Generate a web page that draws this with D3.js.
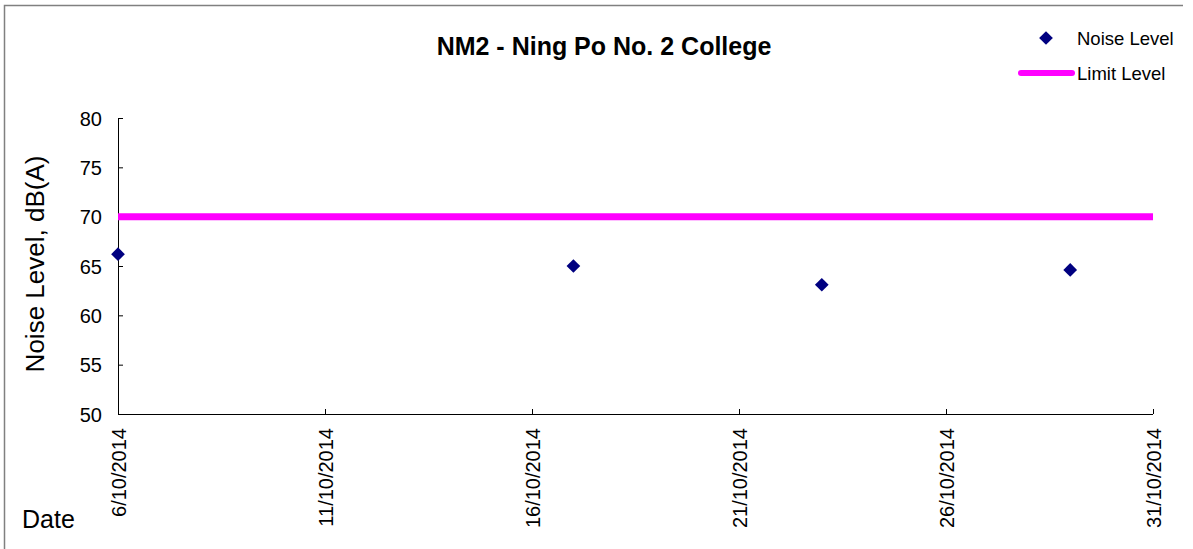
<!DOCTYPE html>
<meta charset="utf-8">
<title>NM2 - Ning Po No. 2 College</title>
<style>
  body { margin: 0; background: #fff; }
  text { font-family: "Liberation Sans", Arial, sans-serif; fill: #000; }
  .axis path, .axis line { stroke: #000; stroke-width: 1px; }
  .axis text { font-size: 20px; }
</style>
<body>
<script src="https://d3js.org/d3.v7.min.js"></script>
<script>

var width = 1193,
    height = 549;

// data
var dates = ["2014-10-06", "2014-10-17", "2014-10-23", "2014-10-29"];
var noise = [66.2, 65.0, 63.1, 64.6];
var limitLevel = 70;
var xTicks = ["2014-10-06", "2014-10-11", "2014-10-16", "2014-10-21", "2014-10-26", "2014-10-31"];
var yTicks = [50, 55, 60, 65, 70, 75, 80];

var parse = d3.utcParse("%Y-%m-%d");
var fmt = function(d) { return d.getUTCDate() + "/" + (d.getUTCMonth() + 1) + "/" + d.getUTCFullYear(); };

var pLeft = 118, pRight = 1153, pTop = 118, pBottom = 414;

var x = d3.scaleUtc()
    .domain([parse(xTicks[0]), parse(xTicks[xTicks.length - 1])])
    .range([pLeft, pRight]);

var y = d3.scaleLinear()
    .domain([50, 80])
    .range([pBottom, pTop]);

var svg = d3.select("body").append("svg")
    .attr("width", width)
    .attr("height", height);

// outer frame (left and top edges)
svg.append("path")
    .attr("d", "M4.5," + height + "V5.5H1183")
    .attr("fill", "none")
    .attr("stroke", "#808080")
    .attr("stroke-width", 1.5);

// y axis
var yAxis = svg.append("g")
    .attr("class", "axis")
    .attr("transform", "translate(" + pLeft + ",0)")
    .call(d3.axisRight(y).tickValues(yTicks).tickSize(5).tickSizeOuter(0));
yAxis.selectAll("text").attr("x", -16).attr("text-anchor", "end").attr("dy", "0.35em");
yAxis.select(".domain").attr("d", "M0.5," + pTop + "V" + pBottom);

// x axis
var xAxis = svg.append("g")
    .attr("class", "axis")
    .attr("transform", "translate(0," + pBottom + ")")
    .call(d3.axisTop(x).tickValues(xTicks.map(parse)).tickFormat(fmt).tickSize(5).tickSizeOuter(0));
xAxis.select(".domain").attr("d", "M" + pLeft + ",0.5H" + pRight);
xAxis.selectAll("text")
    .attr("transform", "rotate(-90)")
    .attr("x", -14)
    .attr("y", 0)
    .attr("dy", "0.35em")
    .attr("text-anchor", "end");

// limit line
svg.append("line")
    .attr("x1", x(parse(xTicks[0])))
    .attr("x2", x(parse(xTicks[xTicks.length - 1])))
    .attr("y1", y(limitLevel))
    .attr("y2", y(limitLevel))
    .attr("stroke", "#ff00ff")
    .attr("stroke-width", 7);

// noise points
var diamond = d3.symbol().type(d3.symbolDiamond2).size(120);
svg.selectAll(".pt")
    .data(dates.map(function(d, i) { return {date: parse(d), v: noise[i]}; }))
    .enter().append("path")
    .attr("class", "pt")
    .attr("d", diamond)
    .attr("fill", "#000080")
    .attr("transform", function(d) { return "translate(" + x(d.date) + "," + y(d.v) + ")"; });

// title
svg.append("text")
    .attr("x", 604)
    .attr("y", 55)
    .attr("text-anchor", "middle")
    .attr("font-size", "25px")
    .attr("font-weight", "bold")
    .text("NM2 - Ning Po No. 2 College");

// y label
svg.append("text")
    .attr("transform", "translate(44,264) rotate(-90)")
    .attr("text-anchor", "middle")
    .attr("font-size", "26px")
    .text("Noise Level, dB(A)");

// x label
svg.append("text")
    .attr("x", 22)
    .attr("y", 528)
    .attr("font-size", "25px")
    .text("Date");

// legend
svg.append("path")
    .attr("d", diamond)
    .attr("fill", "#000080")
    .attr("transform", "translate(1046,38)");
svg.append("text")
    .attr("x", 1077)
    .attr("y", 45)
    .attr("font-size", "18.5px")
    .text("Noise Level");
svg.append("line")
    .attr("x1", 1021).attr("x2", 1072)
    .attr("y1", 73).attr("y2", 73)
    .attr("stroke", "#ff00ff")
    .attr("stroke-width", 6)
    .attr("stroke-linecap", "round");
svg.append("text")
    .attr("x", 1077)
    .attr("y", 80)
    .attr("font-size", "18.5px")
    .text("Limit Level");

</script>
</body>
